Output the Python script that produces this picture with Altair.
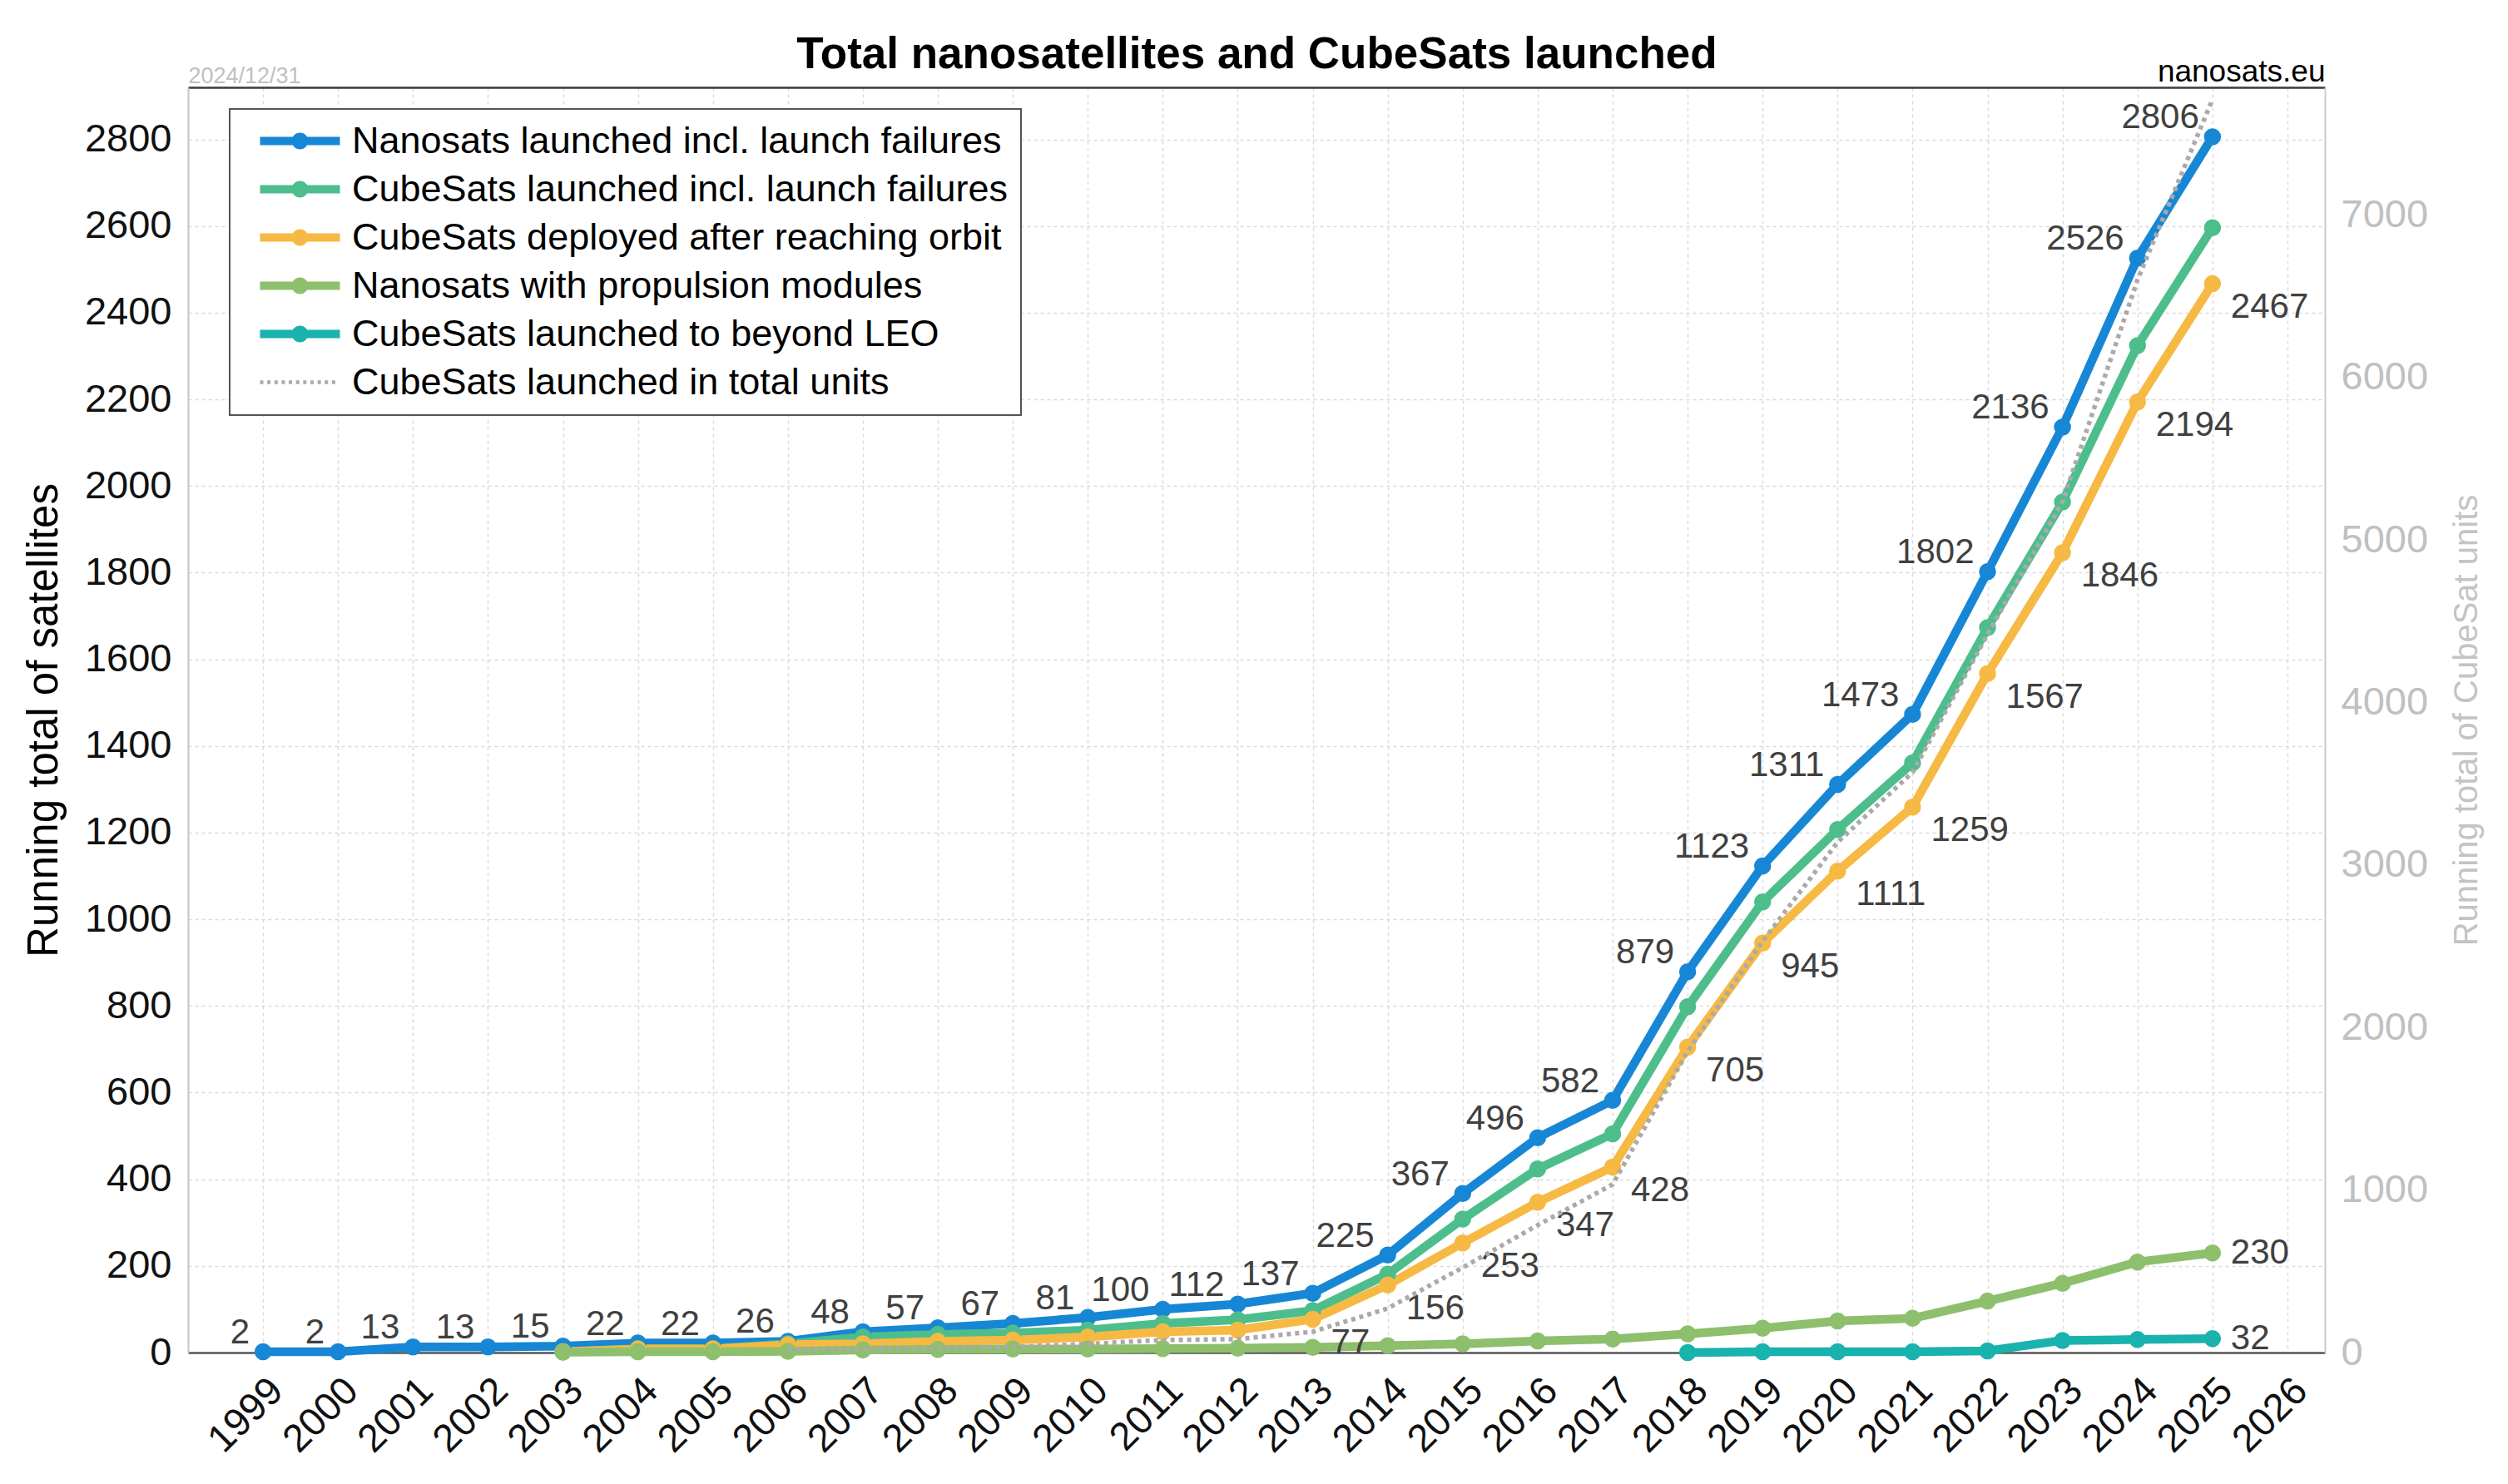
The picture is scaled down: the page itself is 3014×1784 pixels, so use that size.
import altair as alt
import pandas as pd

# ---------------- data ----------------
years = list(range(1999, 2026))
nanosats = [2, 2, 13, 13, 15, 22, 22, 26, 48, 57, 67, 81, 100, 112, 137,
            225, 367, 496, 582, 879, 1123, 1311, 1473, 1802, 2136, 2526, 2806]

cs_years = list(range(2003, 2026))
cubesats_launched = [2, 9, 9, 20, 36, 42, 45, 52, 67, 76, 97, 181, 308, 424,
                     505, 798, 1040, 1207, 1361, 1673, 1963, 2324, 2596]
cubesats_deployed = [2, 8, 8, 18, 20, 26, 29, 36, 48, 52, 77, 156, 253, 347,
                     428, 705, 945, 1111, 1259, 1567, 1846, 2194, 2467]

prop_years = list(range(2003, 2026))
propulsion = [1, 2, 2, 3, 6, 7, 8, 8, 9, 10, 12, 16, 20, 27, 31, 43, 56, 73,
              79, 119, 160, 209, 230]

leo_years = list(range(2018, 2026))
beyond_leo = [0, 2, 2, 2, 4, 28, 30, 32]

unit_years = list(range(2006, 2026))
cubesat_units = [19, 21, 27, 35, 53, 77, 83, 128, 272, 523, 784, 1035, 1852,
                 2530, 3140, 3570, 4420, 5235, 6600, 7710]

x_ticks = list(range(1999, 2027))
y_ticks = list(range(0, 2801, 200))
y2_ticks = list(range(0, 7001, 1000))

series_names = [
    "Nanosats launched incl. launch failures",
    "CubeSats launched incl. launch failures",
    "CubeSats deployed after reaching orbit",
    "Nanosats with propulsion modules",
    "CubeSats launched to beyond LEO",
    "CubeSats launched in total units",
]
colors = ["#1787d5", "#4dbe8b", "#f6b944", "#8dbf6c", "#19b2ad", "#aaaaaa"]

# ---------------- tables ----------------
rows = []
for xs, vs, name in [(years, nanosats, series_names[0]),
                     (cs_years, cubesats_launched, series_names[1]),
                     (cs_years, cubesats_deployed, series_names[2]),
                     (prop_years, propulsion, series_names[3]),
                     (leo_years, beyond_leo, series_names[4])]:
    for yr, v in zip(xs, vs):
        rows.append({"year": yr, "value": v, "series": name})
main_df = pd.DataFrame(rows)
units_df = pd.DataFrame({"year": unit_years, "units": cubesat_units,
                         "series": series_names[5]})
blue_lab = pd.DataFrame({"year": years, "value": nanosats})
orange_lab = pd.DataFrame({"year": cs_years, "value": cubesats_deployed})
orange_lab = orange_lab[orange_lab["year"] >= 2013]
end_lab = pd.DataFrame({"year": [prop_years[-1], leo_years[-1]],
                        "value": [propulsion[-1], beyond_leo[-1]]})

# ---------------- legend symbols (style only) ----------------
solid_sym = ("M-3,-0.32H3V0.32H-3Z "
             "M0.62,0A0.62,0.62 0 1,1 -0.62,0A0.62,0.62 0 1,1 0.62,0Z")
dots = []
xpos = -3.0
while xpos < 2.9:
    dots.append(f"M{xpos:.3f},-0.14h0.25v0.28h-0.25Z")
    xpos += 0.54
dotted_sym = " ".join(dots)
sym_paths = [solid_sym] * 5 + [dotted_sym]

FONT = "Liberation Sans"
GRID = dict(grid=True, gridColor="#dadada", gridDash=[4, 4], gridWidth=1.5)

xscale = alt.Scale(domain=[1998, 2026.5], nice=False, zero=False)
yscale = alt.Scale(domain=[0, 2920], nice=False)
y2scale = alt.Scale(domain=[0, 7785], nice=False)
color_scale = alt.Scale(domain=series_names, range=colors)

x_bottom = alt.X("year:Q", scale=xscale, axis=alt.Axis(
    orient="bottom", values=x_ticks, format="d", title=None,
    labelAngle=315, labelAlign="right", labelBaseline="top",
    labelOverlap=False, labelFontSize=47, labelColor="#111111",
    labelPadding=22, ticks=False, domainColor="#555555", domainWidth=2.5,
    **GRID))
y_left = alt.Y("value:Q", scale=yscale, axis=alt.Axis(
    orient="left", values=y_ticks, format="d",
    title="Running total of satellites",
    titleFontSize=51, titleFontWeight="normal", titleColor="#000000",
    titlePadding=22, labelFontSize=47, labelColor="#111111",
    labelOverlap=False, labelPadding=20, ticks=False,
    domainColor="#c4c4c4", domainWidth=2, **GRID))
y_hidden = alt.Y("value:Q", scale=yscale, axis=None)

color_enc = alt.Color("series:N", scale=color_scale, legend=None)

lines = alt.Chart(main_df).mark_line(
    strokeWidth=10.5, strokeJoin="round", strokeCap="round").encode(
    x=x_bottom, y=y_left, color=color_enc, detail="series:N")

points = alt.Chart(main_df).mark_circle(size=420, opacity=1).encode(
    x=x_bottom, y=y_left, color=color_enc)

leg = alt.Legend(
    title=None, orient="none", legendX=50, legendY=26,
    labelFontSize=45, labelColor="#000000", labelLimit=2000,
    symbolSize=1024, symbolStrokeWidth=0, symbolOpacity=1,
    symbolOffset=46, labelOffset=40,
    rowPadding=12, padding=16, strokeColor="#555555", fillColor="#ffffff")

# invisible layer that only carries the legend (colour + symbol per series)
legend_layer = alt.Chart(main_df).mark_point(
    filled=True, opacity=0, size=1).encode(
    x=x_bottom, y=y_left,
    fill=alt.Fill("series:N", scale=alt.Scale(domain=series_names, range=colors),
                  legend=leg),
    shape=alt.Shape("series:N", scale=alt.Scale(domain=series_names,
                                                 range=sym_paths),
                    legend=leg))

orange_text = alt.Chart(orange_lab).mark_text(
    align="left", baseline="top", dx=22, dy=8, fontSize=42,
    color="#404040").encode(x=x_bottom, y=y_left, text="value:Q")

main = alt.layer(legend_layer, lines, points, orange_text)

blue_text = alt.Chart(blue_lab).mark_text(
    align="right", baseline="alphabetic", dx=-16, dy=-10, fontSize=42,
    color="#404040").encode(
    x=alt.X("year:Q", scale=xscale, axis=alt.Axis(
        orient="top", title="Total nanosatellites and CubeSats launched",
        titleFontSize=53, titleFontWeight="bold", titleColor="#000000",
        titleAnchor="middle", titleBaseline="alphabetic", titlePadding=24,
        domain=False, labels=False, ticks=False, grid=False)),
    y=y_hidden, text="value:Q")

end_text = alt.Chart(end_lab).mark_text(
    align="left", baseline="middle", dx=22, fontSize=42,
    color="#404040").encode(
    x=alt.X("year:Q", scale=xscale, axis=alt.Axis(
        orient="top", title="nanosats.eu", titleFontSize=37,
        titleFontWeight="normal", titleColor="#000000", titleAnchor="end",
        titleBaseline="alphabetic", titlePadding=8,
        domain=False, labels=False, ticks=False, grid=False)),
    y=y_hidden, text="value:Q")

dotted = alt.Chart(units_df).mark_line(
    strokeWidth=5.5, strokeDash=[5, 5]).encode(
    x=alt.X("year:Q", scale=xscale, axis=alt.Axis(
        orient="top", title="2024/12/31", titleFontSize=27,
        titleFontWeight="normal", titleColor="#c0c0c0", titleAnchor="start",
        titleBaseline="alphabetic", titlePadding=6,
        domain=True, domainColor="#3a3a3a", domainWidth=2.5,
        labels=False, ticks=False, grid=False)),
    y=alt.Y("units:Q", scale=y2scale, axis=alt.Axis(
        orient="right", values=y2_ticks, format="d",
        title="Running total of CubeSat units",
        titleFontSize=40, titleFontWeight="normal", titleColor="#c4c4c4",
        titleAngle=270, titleBaseline="top", titlePadding=27,
        labelFontSize=47, labelColor="#c0c0c0", labelPadding=19,
        labelOverlap=False, ticks=False, domainColor="#cccccc",
        domainWidth=2, grid=False)),
    color=color_enc)

chart = alt.layer(main, blue_text, end_text, dotted).resolve_scale(
    y="independent").resolve_axis(x="independent", y="independent").properties(
    width=2568, height=1521,
    autosize=alt.AutoSizeParams(type="none"),
    padding={"left": 218, "top": 97, "right": 212, "bottom": 150},
).configure(font=FONT).configure_view(strokeWidth=0).configure_legend(
    strokeWidth=2)

chart.save("out.html", embed_options={"renderer": "svg", "actions": False})
